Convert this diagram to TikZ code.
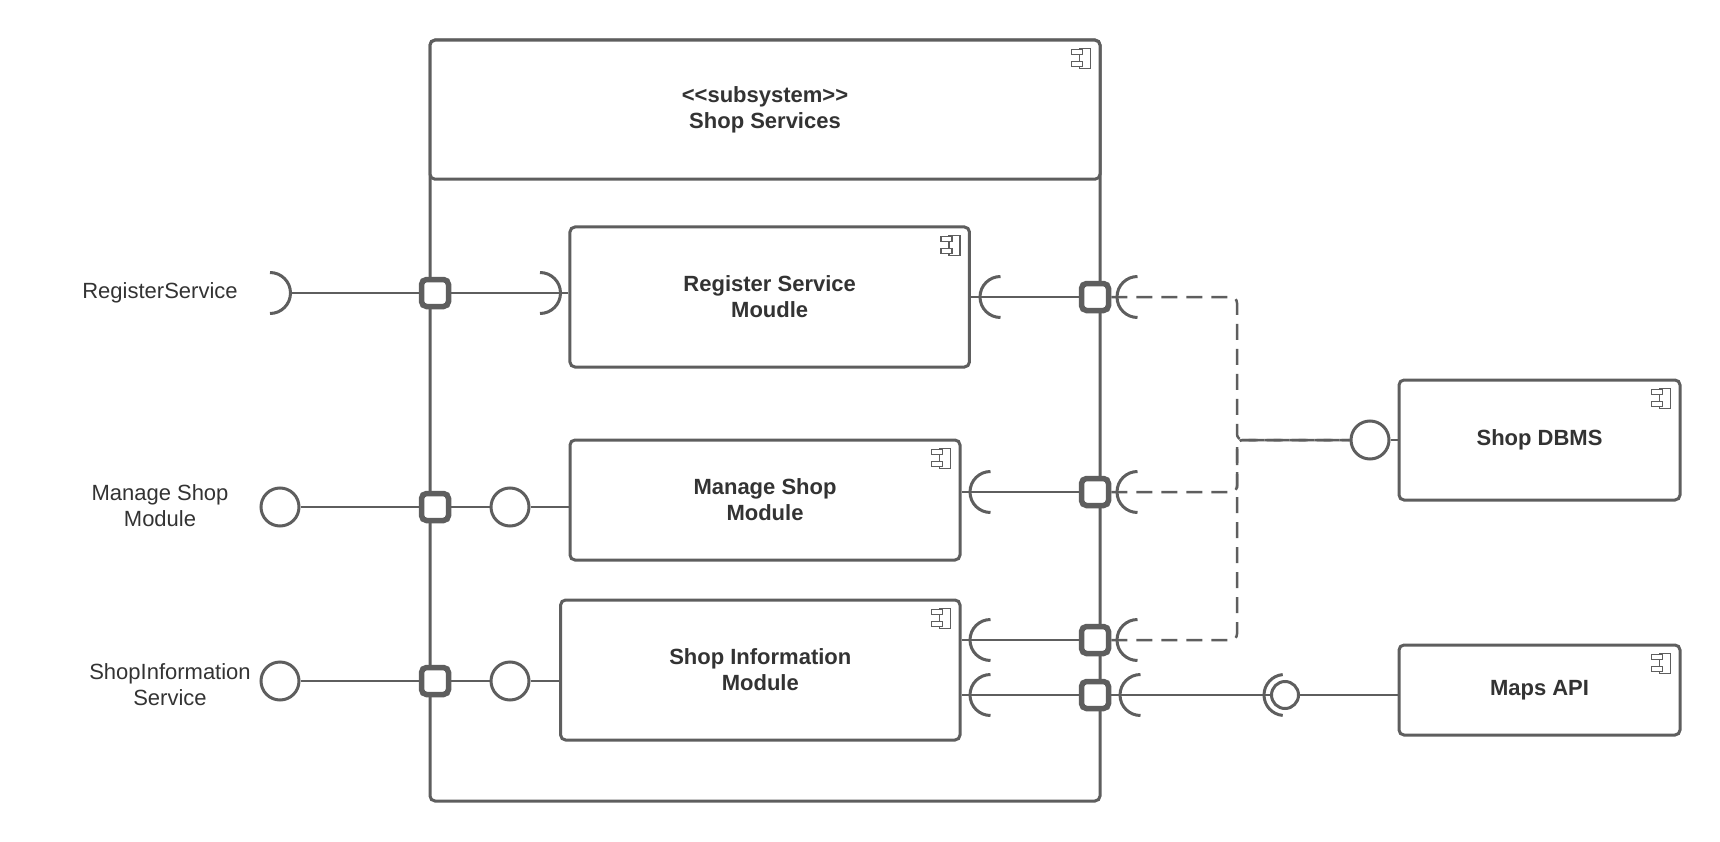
\documentclass[tikz,border=0pt]{standalone}
\usepackage{fontspec}
\setmainfont{Liberation Sans}
\definecolor{umlgray}{HTML}{5E5E5E}
\definecolor{txtgray}{HTML}{333333}

\begin{document}
\begin{tikzpicture}[x=1pt,y=1pt,
	every node/.style={font=\fontsize{22}{26}\selectfont,text=txtgray},
	comp/.style={draw=umlgray,line width=3pt,rounded corners=5pt,fill=white,align=center,font=\bfseries\fontsize{22}{26}\selectfont},
	port/.style={draw=umlgray,line width=5.5pt,rounded corners=5pt,fill=white,minimum size=27pt,inner sep=0pt},
	ball/.style={circle,draw=umlgray,line width=3pt,fill=white,minimum size=38pt,inner sep=0pt},
	link/.style={draw=umlgray,line width=2.5pt},
	dashlink/.style={link,dash pattern=on 16pt off 9pt,rounded corners=6pt},
	sock/.style={draw=umlgray,line width=3pt},
	icon/.style={draw=umlgray,line width=1.2pt,fill=white}
]

	\def \r {20.5};

	\useasboundingbox (0,0) rectangle (1720,-842);

	\node[comp,minimum width=670pt,minimum height=761pt] (sub) at (765,-420.5) {};
	\node[comp,minimum width=670pt,minimum height=139pt] (head) at (765,-109.7) {<\kern0pt<subsystem>\kern0pt>\\Shop Services};

	\node[comp,minimum width=399.5pt,minimum height=140pt] (reg) at (769.7,-297) {Register Service\\Moudle};
	\node[comp,minimum width=390pt,minimum height=120pt] (mng) at (765,-500) {Manage Shop\\Module};
	\node[comp,minimum width=399.4pt,minimum height=140pt] (info) at (760.3,-670) {Shop Information\\Module};
	\node[comp,minimum width=281pt,minimum height=120pt] (dbms) at (1539.5,-440) {Shop DBMS};
	\node[comp,minimum width=281pt,minimum height=90pt] (maps) at (1539.5,-690) {Maps API};

	\foreach \b in {head,reg,mng,info,dbms,maps} {
		\draw[icon,shift={(\b.north east)}] (-22,-10) rectangle (-11,-30);
		\draw[icon,shift={(\b.north east)}] (-30,-11) rectangle (-19,-16) (-30,-23) rectangle (-19,-28);
	}

	\node (lblreg) at (160,-293) {RegisterService};
	\node[align=center] (lblmng) at (160,-506) {Manage Shop\\Module};
	\node[align=center] (lblinfo) at (170,-685) {ShopInformation\\Service};

	\node[port] (lp1) at (435,-293) {};
	\node[port] (lp2) at (435,-507) {};
	\node[port] (lp3) at (435,-681) {};
	\node[port] (rp1) at (1095,-297) {};
	\node[port] (rp2) at (1095,-492) {};
	\node[port] (rp3) at (1095,-640) {};
	\node[port] (rp4) at (1095,-695) {};

	\node[ball] (xb1) at (280,-507) {};
	\node[ball] (xb2) at (280,-681) {};
	\node[ball] (ib1) at (510,-507) {};
	\node[ball] (ib2) at (510,-681) {};
	\node[ball] (dball) at (1370,-440) {};
	\node[ball,minimum size=27pt] (mball) at (1285,-695) {};

	\coordinate (rs0) at (290.5,-293);
	\coordinate (rs1) at (560.5,-293);
	\coordinate (ls1) at (980,-297);
	\coordinate (ls2) at (970,-492);
	\coordinate (ls3) at (970,-640);
	\coordinate (ls4) at (970,-695);
	\coordinate (os1) at (1117,-297);
	\coordinate (os2) at (1117,-492);
	\coordinate (os3) at (1117,-640);
	\coordinate (os4) at (1120,-695);
	\coordinate (ms) at (1264,-695);
	\coordinate (dj) at (1237,-440);

	\draw[link] (rs0) -- (lp1);
	\draw[link] (lp1) -- (lp1 -| reg.west);
	\draw[link] (xb1) -- (lp2) -- (ib1);
	\draw[link] (ib1) -- (ib1 -| mng.west);
	\draw[link] (xb2) -- (lp3) -- (ib2);
	\draw[link] (ib2) -- (ib2 -| info.west);

	\draw[link] (rp1) -- (rp1 -| reg.east);
	\draw[link] (rp2) -- (rp2 -| mng.east);
	\draw[link] (rp3) -- (rp3 -| info.east);
	\draw[link] (rp4) -- (rp4 -| info.east);
	\draw[link] (rp4) -- (mball);
	\draw[link] (mball) -- (mball -| maps.west);
	\draw[link] (dball) -- (dbms);

	\foreach \p in {rp1,rp2,rp3} {
		\draw[dashlink] (\p.east) -| (dj) -- (dball);
	}

	\foreach \c in {rs0,rs1} {
		\draw[sock] (\c) arc[start angle=0,end angle=90,radius=\r] (\c) arc[start angle=0,end angle=-90,radius=\r];
	}
	\foreach \c in {ls1,ls2,ls3,ls4,os1,os2,os3,os4} {
		\draw[sock] (\c) arc[start angle=180,end angle=90,radius=\r] (\c) arc[start angle=180,end angle=270,radius=\r];
	}
	\draw[sock] (ms) arc[start angle=180,end angle=95,radius=\r] (ms) arc[start angle=180,end angle=265,radius=\r];
\end{tikzpicture}
\end{document}
